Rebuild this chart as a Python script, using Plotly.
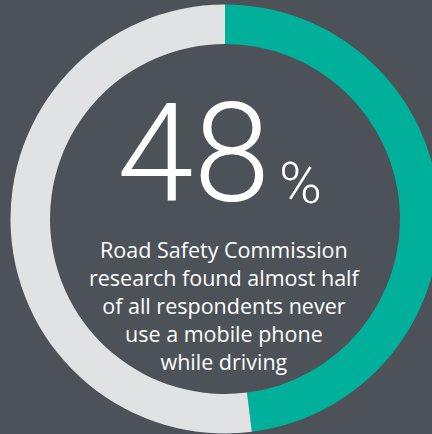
import plotly.graph_objects as go

labels = ["Never use a mobile phone while driving", "Other respondents"]
values = [48, 52]
colors = ["#00b09a", "#e1e2e4"]
big_number = "48"
caption_lines = ["Road Safety Commission", "research found almost half",
                 "of all respondents never", "use a mobile phone", "while driving"]

W, H = 450, 434
cx, cy, r = 225, 219, 214.5

fig = go.Figure(go.Pie(
    labels=labels, values=values, sort=False, direction="clockwise", rotation=0,
    hole=175 / 214.5, marker=dict(colors=colors, line=dict(width=0)),
    textinfo="none", hoverinfo="skip", showlegend=False,
    domain=dict(x=[(cx - r) / W, (cx + r) / W], y=[(H - cy - r) / H, (H - cy + r) / H]),
))

fig.add_annotation(text=big_number, x=193 / W, y=(H - 154) / H, xref="paper", yref="paper",
                   showarrow=False, xanchor="center", yanchor="middle",
                   font=dict(family="Roboto", size=138, color="white", weight=300))
fig.add_annotation(text="%", x=300 / W, y=(H - 183) / H, xref="paper", yref="paper",
                   showarrow=False, xanchor="center", yanchor="middle",
                   font=dict(family="Roboto", size=58, color="white", weight=300))
fig.add_annotation(text="<br>".join(caption_lines), x=225 / W, y=(H - 305) / H,
                   xref="paper", yref="paper", showarrow=False,
                   xanchor="center", yanchor="middle", align="center",
                   font=dict(family="Open Sans", size=21.5, color="white"))

fig.update_layout(width=W, height=H, margin=dict(l=0, r=0, t=0, b=0),
                  paper_bgcolor="#4d5259", plot_bgcolor="#4d5259")
fig.write_html("out.html")
